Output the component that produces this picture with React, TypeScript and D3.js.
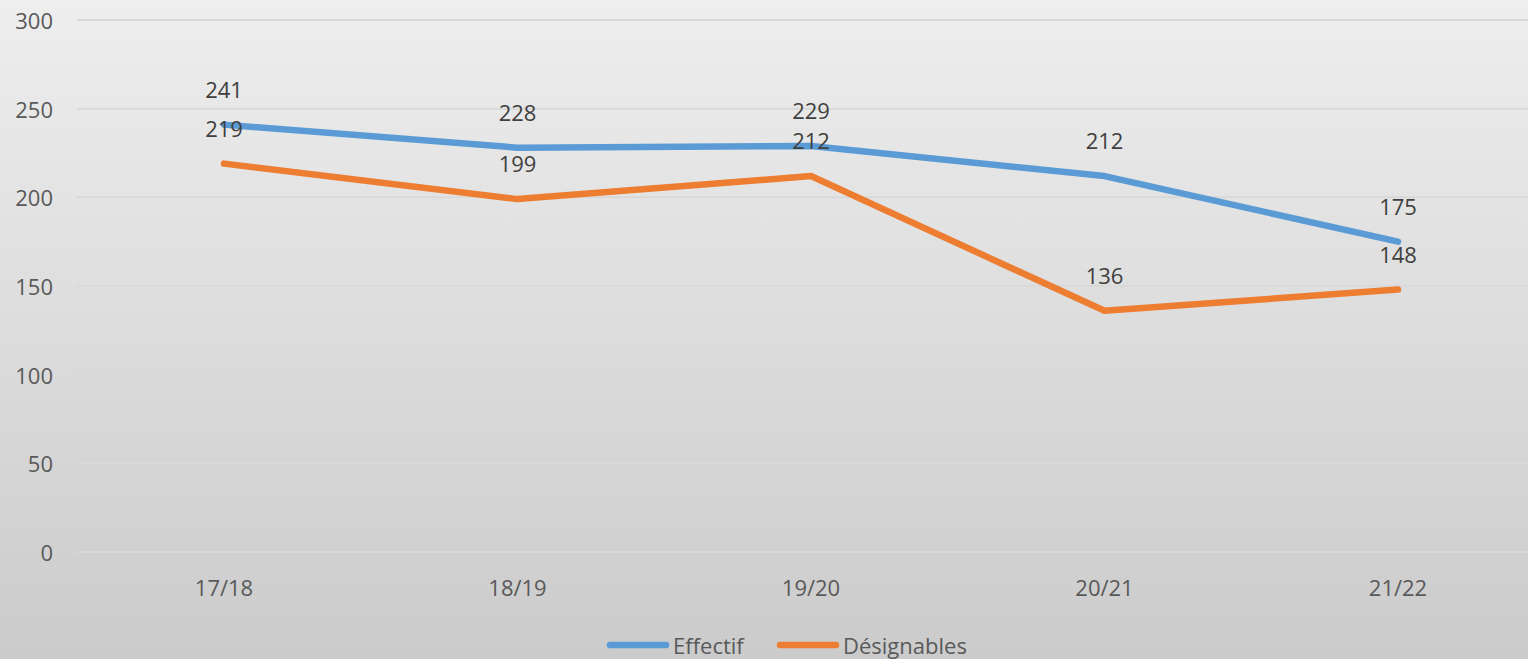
import React from "react";
import * as d3 from "d3";

const categories = ["17/18", "18/19", "19/20", "20/21", "21/22"];
const effectif = [241, 228, 229, 212, 175];
const designables = [219, 199, 212, 136, 148];
const yTicks = [0, 50, 100, 150, 200, 250, 300];
const seriesNames = ["Effectif", "Désignables"];
const colors = ["#5b9bd5", "#ed7d31"];

const W = 1528;
const H = 659;
const FONT = "'Open Sans', 'Noto Sans', sans-serif";

export default function App() {
  const x = d3.scalePoint<string>().domain(categories).range([224, 1398]);
  const y = d3.scaleLinear().domain([0, 300]).range([552, 20]);
  const line = d3
    .line<number>()
    .x((_, i) => x(categories[i]) as number)
    .y((d) => y(d));
  const series = [effectif, designables];

  return (
    <svg
      width={W}
      height={H}
      style={{ position: "absolute", left: 0, top: 0 }}
      fontFamily={FONT}
    >
      <defs>
        <linearGradient id="bg" x1="0" y1="0" x2="0" y2="1">
          <stop offset="0%" stopColor="#eeeeee" />
          <stop offset="100%" stopColor="#cbcbcb" />
        </linearGradient>
      </defs>
      <rect x={0} y={0} width={W} height={H} fill="url(#bg)" />
      {yTicks.map((t) => (
        <g key={t}>
          <line x1={77} x2={W} y1={y(t)} y2={y(t)} stroke="#d9d9d9" strokeWidth={2} />
          <text
            x={53}
            y={y(t)}
            textAnchor="end"
            dominantBaseline="central"
            fontSize={22}
            fill="#595959"
          >
            {t}
          </text>
        </g>
      ))}
      {categories.map((c) => (
        <text
          key={c}
          x={x(c)}
          y={587}
          textAnchor="middle"
          dominantBaseline="central"
          fontSize={22}
          fill="#595959"
        >
          {c}
        </text>
      ))}
      {series.map((s, si) => (
        <path
          key={si}
          d={line(s) || ""}
          fill="none"
          stroke={colors[si]}
          strokeWidth={6.5}
          strokeLinecap="round"
          strokeLinejoin="round"
        />
      ))}
      {series.map((s, si) =>
        s.map((v, i) => (
          <text
            key={si + "-" + i}
            x={x(categories[i])}
            y={y(v) - 36}
            textAnchor="middle"
            dominantBaseline="central"
            fontSize={22}
            fill="#404040"
          >
            {v}
          </text>
        ))
      )}
      {seriesNames.map((n, i) => {
        const lx = i === 0 ? 610 : 780;
        return (
          <g key={n}>
            <line
              x1={lx}
              x2={lx + 56}
              y1={645}
              y2={645}
              stroke={colors[i]}
              strokeWidth={6.5}
              strokeLinecap="round"
            />
            <text
              x={lx + 63}
              y={645}
              dominantBaseline="central"
              fontSize={22}
              fill="#595959"
            >
              {n}
            </text>
          </g>
        );
      })}
    </svg>
  );
}
